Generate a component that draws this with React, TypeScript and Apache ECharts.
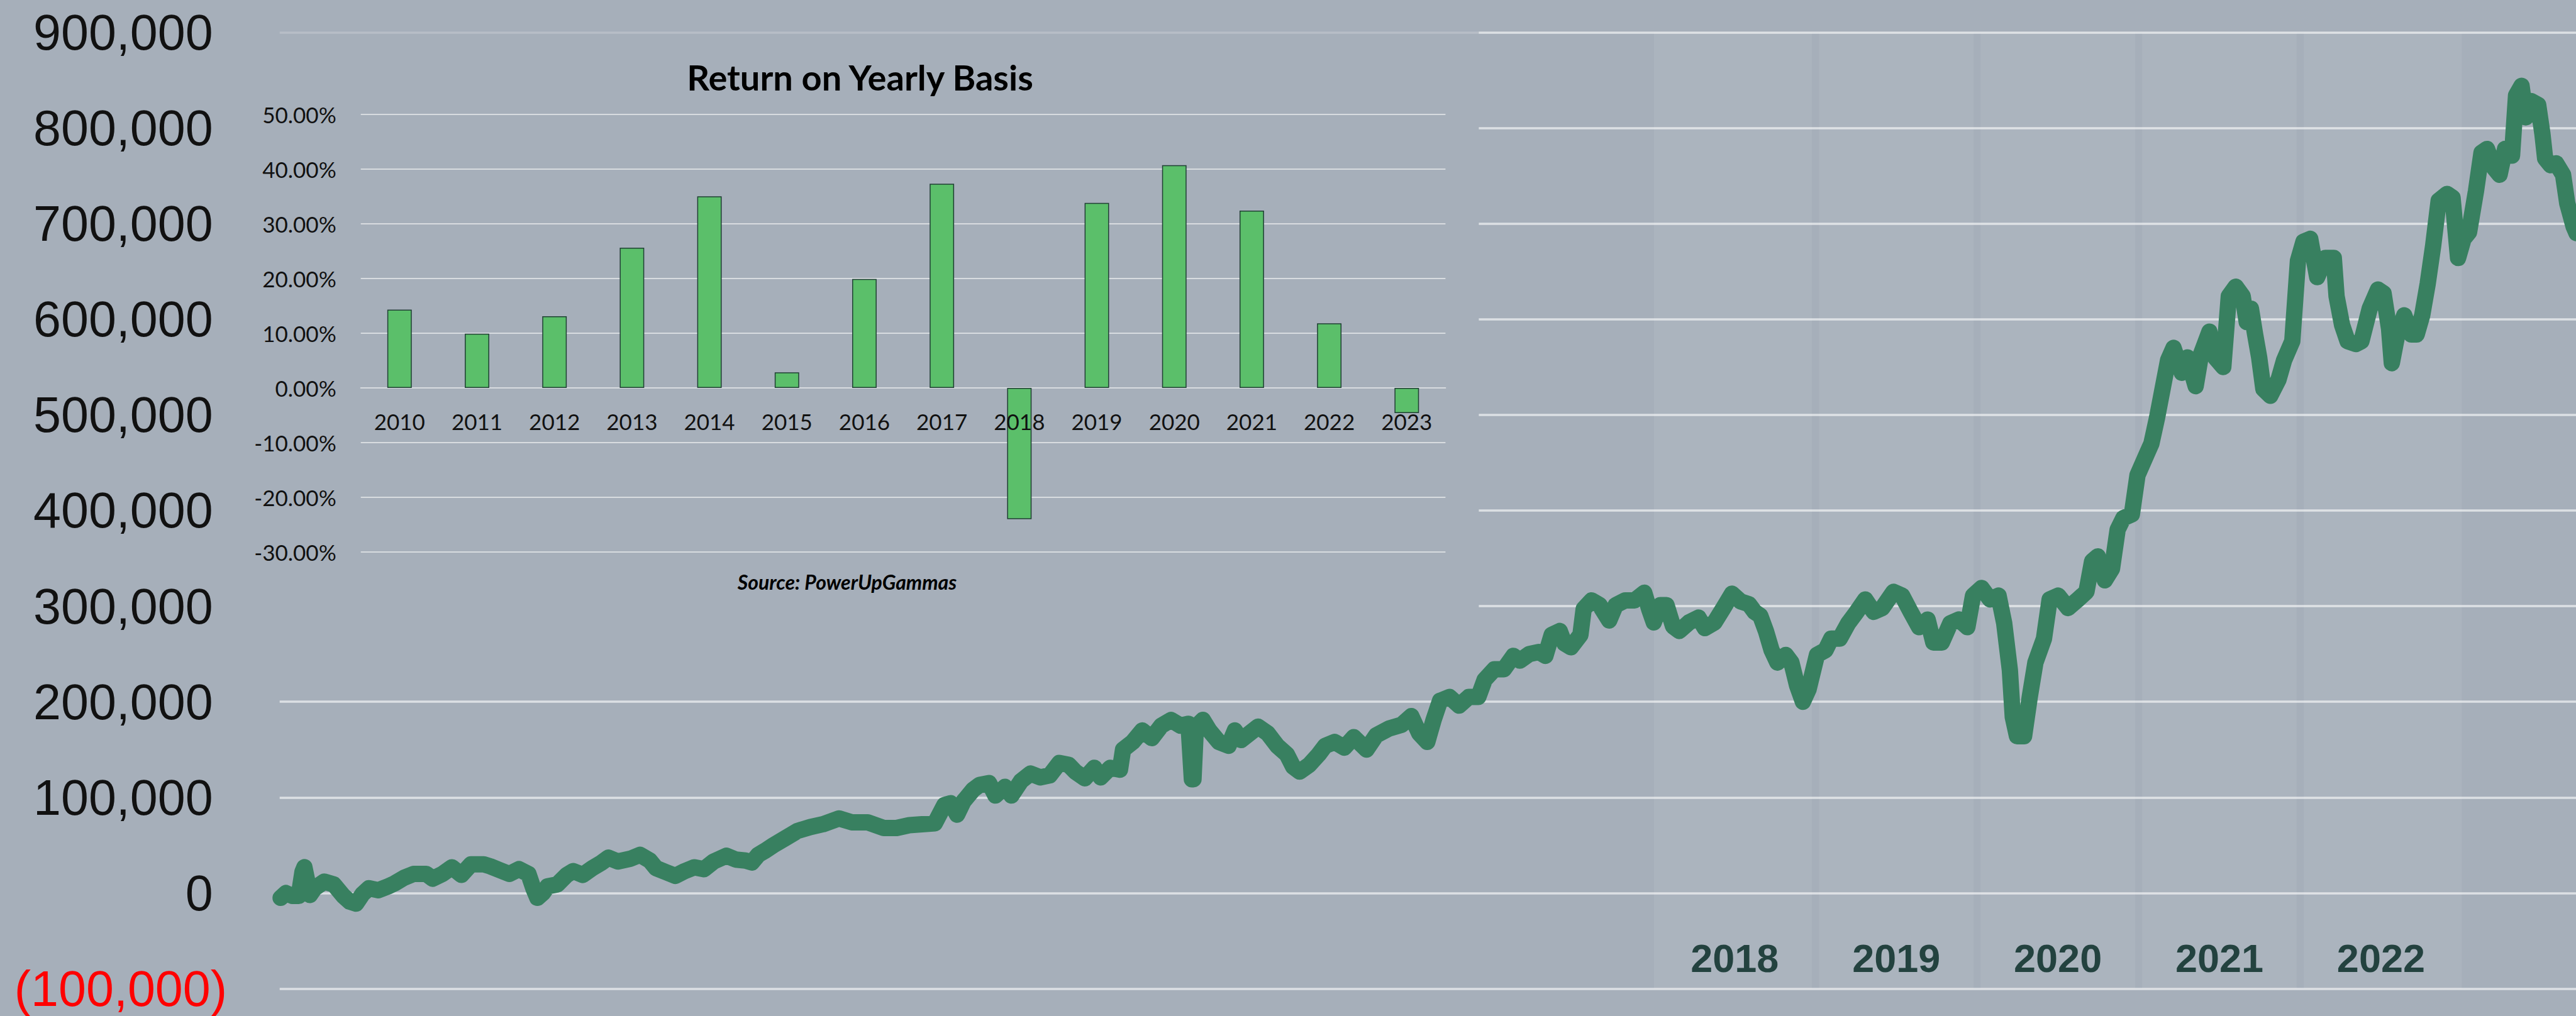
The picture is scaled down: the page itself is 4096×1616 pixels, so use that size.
import React, { useEffect, useRef } from 'react';
import * as echarts from 'echarts';

const W = 4096;
const H = 1616;
const BG = '#A6AFBA';

// ---------- inset chart data ----------
const INSET_YEARS = ['2010', '2011', '2012', '2013', '2014', '2015', '2016', '2017', '2018', '2019', '2020', '2021', '2022', '2023'];
const INSET_RETURNS = [14.3, 9.9, 13.1, 25.6, 35.0, 2.85, 19.9, 37.3, -24.0, 33.8, 40.7, 32.4, 11.8, -4.6];
const INSET_MIN = -30;
const INSET_MAX = 50;
const INSET_STEP = 10;

// ---------- main chart data ----------
const MAIN_MIN = -100000;
const MAIN_MAX = 900000;
const MAIN_STEP = 100000;
const PERIOD_LABELS = ['2018', '2019', '2020', '2021', '2022'];
const PERIOD_LABEL_POS = [2018.5, 2019.5, 2020.5, 2021.5, 2022.5];
const SHADED_YEARS = [2018, 2019, 2020, 2021, 2022];

// dates in decimal years
const VALUE_DATES = [
  2009.50, 2009.533, 2009.572, 2009.612, 2009.635, 2009.647, 2009.663, 2009.681, 2009.710, 2009.770,
  2009.829, 2009.888, 2009.928, 2009.967, 2010.007, 2010.046, 2010.105, 2010.165, 2010.204, 2010.264,
  2010.323, 2010.402, 2010.441, 2010.501, 2010.560, 2010.619, 2010.678, 2010.757, 2010.797, 2010.856,
  2010.915, 2010.975, 2011.034, 2011.064, 2011.089, 2011.123, 2011.152, 2011.212, 2011.271, 2011.311,
  2011.370, 2011.429, 2011.488, 2011.528, 2011.587, 2011.666, 2011.725, 2011.785, 2011.824, 2011.883,
  2011.943, 2012.002, 2012.061, 2012.120, 2012.180, 2012.259, 2012.318, 2012.377, 2012.417, 2012.456,
  2012.496, 2012.55, 2012.62,
  2012.699, 2012.778, 2012.857, 2012.956, 2013.035, 2013.134, 2013.233, 2013.312, 2013.391, 2013.470,
  2013.549, 2013.608, 2013.648, 2013.687, 2013.727, 2013.786, 2013.825, 2013.885, 2013.924, 2013.983,
  2014.023, 2014.082, 2014.141, 2014.201, 2014.260, 2014.319, 2014.378, 2014.418, 2014.477, 2014.536,
  2014.576, 2014.635, 2014.695, 2014.714, 2014.774, 2014.833, 2014.892, 2014.951, 2015.011, 2015.070,
  2015.119, 2015.140, 2015.150, 2015.165, 2015.208, 2015.248, 2015.307, 2015.367, 2015.406, 2015.445,
  2015.550, 2015.609, 2015.668, 2015.728, 2015.767, 2015.807, 2015.866, 2015.925, 2015.965, 2016.024,
  2016.083, 2016.142, 2016.221, 2016.281, 2016.360, 2016.439, 2016.498, 2016.547, 2016.597, 2016.636,
  2016.676, 2016.735, 2016.794, 2016.854, 2016.913, 2016.952, 2017.012, 2017.071, 2017.130, 2017.170,
  2017.229, 2017.288, 2017.328, 2017.367, 2017.417, 2017.446, 2017.486, 2017.545, 2017.565, 2017.614,
  2017.664, 2017.723, 2017.763, 2017.822, 2017.881, 2017.940, 2017.970, 2017.999, 2018.039, 2018.078,
  2018.118, 2018.157, 2018.217, 2018.276, 2018.315, 2018.375,
  2018.430, 2018.483, 2018.535, 2018.588, 2018.623, 2018.658, 2018.693, 2018.728, 2018.764, 2018.816,
  2018.851, 2018.886, 2018.922, 2018.957, 2019.009, 2019.062, 2019.097, 2019.150, 2019.202, 2019.255,
  2019.308, 2019.360, 2019.413, 2019.483, 2019.536, 2019.589, 2019.641, 2019.694, 2019.729, 2019.782,
  2019.834, 2019.887, 2019.940, 2019.975, 2020.028, 2020.080, 2020.133, 2020.168, 2020.203, 2020.221,
  2020.247, 2020.291, 2020.326, 2020.361, 2020.414, 2020.449, 2020.502, 2020.563, 2020.625, 2020.677,
  2020.712, 2020.747, 2020.791, 2020.835, 2020.870, 2020.905, 2020.958, 2020.993,
  2021.045, 2021.079, 2021.114, 2021.148, 2021.182, 2021.216, 2021.267, 2021.302, 2021.353, 2021.387,
  2021.438, 2021.473, 2021.524, 2021.558, 2021.601, 2021.644, 2021.669, 2021.695, 2021.721, 2021.746,
  2021.772, 2021.815, 2021.866, 2021.900, 2021.951, 2021.986, 2022.020, 2022.062, 2022.105, 2022.156,
  2022.208, 2022.225, 2022.259, 2022.293, 2022.345, 2022.379, 2022.430, 2022.481, 2022.516, 2022.550,
  2022.567, 2022.601, 2022.644, 2022.687, 2022.721, 2022.755, 2022.789, 2022.823, 2022.857, 2022.909,
  2022.943, 2022.977, 2023.011, 2023.045, 2023.088, 2023.122, 2023.156, 2023.200, 2023.234, 2023.268,
  2023.311, 2023.336, 2023.370, 2023.396, 2023.430, 2023.473, 2023.499, 2023.516, 2023.550, 2023.584,
  2023.627, 2023.653, 2023.692, 2023.71,
];

// portfolio value, thousands
const VALUE_K = [
  -5, 0, -3, -3, 22, 27, 14, -2, 5, 12,
  9, -3, -9, -11, -1, 5, 3, 7, 10, 16,
  20, 20, 15, 20, 27, 19, 30, 30, 28, 24,
  20, 25, 20, 5, -5, 0, 7, 9, 19, 23,
  19, 26, 32, 37, 33, 36, 40, 34, 26, 22,
  18, 23, 27, 25, 33, 39, 35, 34, 32, 40,
  44, 50, 57,
  65, 69, 72, 78, 74, 74, 68, 68, 71, 72,
  73, 92, 94, 82, 96, 108, 113, 115, 102, 111,
  102, 117, 125, 121, 123, 136, 134, 127, 120, 131,
  121, 131, 129, 150, 158, 170, 162, 175, 181, 175,
  177, 119, 119, 174, 181, 170, 158, 154, 170, 160,
  174, 167, 154, 145, 132, 127, 134, 145, 154, 158,
  152, 163, 150, 165, 172, 176, 185, 167, 158, 181,
  201, 205, 196, 205, 205, 223, 234, 234, 248, 243,
  250, 252, 248, 270, 274, 261, 257, 270, 297, 306,
  301, 285, 301, 306, 306, 314, 297, 283, 301, 301,
  279, 274, 283, 288, 277, 283,
  298, 313, 305, 302, 294, 290, 274, 254, 241, 249,
  241, 217, 200, 213, 249, 254, 266, 266, 282, 294,
  307, 294, 298, 315, 311, 294, 278, 286, 262, 262,
  282, 286, 278, 311, 319, 307, 311, 282, 233, 184,
  164, 164, 205, 241, 266, 307, 311, 298, 307, 315,
  347, 352, 327, 339, 380, 392, 396, 437,
  457, 470, 497, 527, 557, 570, 544, 560, 530, 564,
  587, 560, 550, 624, 634, 624, 597, 611, 584, 560,
  527, 520, 537, 557, 577, 661, 681, 684, 644, 664,
  664, 624, 594, 577, 574, 577, 611, 631, 627, 590,
  554, 584, 604, 584, 584, 604, 637, 677, 724, 731,
  727, 664, 684, 691, 734, 774, 778, 758, 751, 778,
  771, 834, 844, 811, 828, 824, 794, 768, 761, 763,
  751, 721, 697, 690,
];

function fmtThousands(v: number): string {
  return Math.abs(v).toLocaleString('en-US');
}

export default function App() {
  const ref = useRef<HTMLDivElement>(null);

  useEffect(() => {
    if (!ref.current) return;
    const chart = echarts.init(ref.current, undefined, { renderer: 'svg', width: W, height: H });

    const lineData = VALUE_DATES.map((t, i) => [t, VALUE_K[i] * 1000]);
    const gap = 0.022;

    // inset grid geometry (px)
    const insetTop = 181.7;
    const insetHeight = 696.4;
    const zeroOffset = -insetHeight * (0 - INSET_MIN) / (INSET_MAX - INSET_MIN);

    const yFont = 'Liberation Sans';
    const yFs = 79;
    const yLh = 72;

    const option: any = {
      animation: false,
      backgroundColor: BG,
      grid: [
        { left: 444.7, right: 0, top: 51.3, bottom: 43.4 },
        { left: 573.7, width: 1724.7, top: insetTop, height: insetHeight },
      ],
      xAxis: [
        {
          gridIndex: 0,
          type: 'value',
          min: 2009.494,
          max: 2023.707,
          axisLine: { show: false },
          axisTick: { show: false },
          splitLine: { show: false },
          axisLabel: {
            customValues: PERIOD_LABEL_POS,
            inside: true,
            margin: 48.6,
            verticalAlign: 'middle',
            formatter: (v: number) => {
              const i = PERIOD_LABEL_POS.findIndex((p) => Math.abs(p - v) < 1e-6);
              return i >= 0 ? PERIOD_LABELS[i] : '';
            },
            color: '#143532',
            fontFamily: 'Liberation Sans',
            fontWeight: 'bold',
            fontSize: 63,
            lineHeight: 63,
          },
        },
        {
          gridIndex: 1,
          type: 'category',
          data: INSET_YEARS,
          z: 3,
          offset: zeroOffset,
          axisLine: { show: true, onZero: false, lineStyle: { color: '#D8DCE0', width: 2 } },
          axisTick: { show: false },
          axisLabel: {
            interval: 0,
            color: '#111',
            fontFamily: 'Lato',
            fontSize: 35,
            lineHeight: 35,
            margin: 36,
          },
        },
      ],
      yAxis: [
        {
          gridIndex: 0,
          type: 'value',
          min: MAIN_MIN,
          max: MAIN_MAX,
          interval: MAIN_STEP,
          axisLine: { show: false },
          axisTick: { show: false },
          splitLine: { show: true, lineStyle: { color: '#DCE0E4', width: 3.5 } },
          axisLabel: {
            margin: 83.7,
            fontFamily: yFont,
            fontSize: yFs,
            lineHeight: yLh,
            color: '#111',
            formatter: (v: number) =>
              v < 0 ? `{neg|(${fmtThousands(v)})}` : `{num|${fmtThousands(v)}}{pad| }`,
            rich: {
              num: { fontFamily: yFont, fontSize: yFs, lineHeight: yLh, color: '#111' },
              neg: { fontFamily: yFont, fontSize: yFs, lineHeight: yLh, color: '#FF0000' },
              pad: { fontFamily: yFont, fontSize: yFs, lineHeight: yLh, width: 22.4 },
            },
          },
        },
        {
          gridIndex: 1,
          type: 'value',
          min: INSET_MIN,
          max: INSET_MAX,
          interval: INSET_STEP,
          z: 2,
          axisLine: { show: false },
          axisTick: { show: false },
          splitLine: { show: true, lineStyle: { color: '#D8DCE0', width: 2 } },
          axisLabel: {
            margin: 39,
            color: '#111',
            fontFamily: 'Lato',
            fontSize: 35,
            formatter: (v: number) => `${v.toFixed(2)}%`,
          },
        },
      ],
      series: [
        {
          type: 'line',
          xAxisIndex: 0,
          yAxisIndex: 0,
          data: lineData,
          showSymbol: false,
          symbol: 'none',
          z: 2,
          lineStyle: { color: '#388060', width: 26, cap: 'round', join: 'round' },
        },
        {
          type: 'line',
          xAxisIndex: 0,
          yAxisIndex: 0,
          data: [],
          z: 4,
          markArea: {
            silent: true,
            itemStyle: { color: 'rgba(255,255,255,0.065)' },
            data: SHADED_YEARS.map((y, i) => [
              { xAxis: y + (i === 0 ? 0 : gap) },
              { xAxis: y + 1 - (i === SHADED_YEARS.length - 1 ? 0 : gap) },
            ]),
          },
        },
        {
          type: 'bar',
          xAxisIndex: 1,
          yAxisIndex: 1,
          data: INSET_RETURNS,
          barWidth: 38.9,
          z: 3,
          itemStyle: { color: '#5BBF6A', borderColor: '#1F3F33', borderWidth: 1.5 },
        },
      ],
      graphic: [
        {
          type: 'rect',
          z: 1,
          silent: true,
          shape: { x: 400, y: 40, width: 1951.4, height: 16 },
          style: { fill: BG, opacity: 0.7 },
        },
        {
          type: 'rect',
          z: 1,
          silent: true,
          shape: { x: 400, y: 56, width: 1951.4, height: 984 },
          style: { fill: BG },
        },
        {
          type: 'text',
          z: 6,
          x: 1367.5,
          y: 122.9,
          style: {
            text: 'Return on Yearly Basis',
            fill: '#000',
            fontFamily: 'Lato',
            fontWeight: 'bold',
            fontSize: 56,
            align: 'center',
            verticalAlign: 'middle',
          },
        },
        {
          type: 'text',
          z: 6,
          x: 1347,
          y: 925.5,
          style: {
            text: 'Source: PowerUpGammas',
            fill: '#000',
            fontFamily: 'Lato',
            fontWeight: 'bold',
            fontStyle: 'italic',
            fontSize: 32,
            align: 'center',
            verticalAlign: 'middle',
          },
        },
      ],
    };

    chart.setOption(option);
    return () => chart.dispose();
  }, []);

  return (
    <div
      ref={ref}
      style={{ position: 'fixed', left: 0, top: 0, width: W, height: H }}
    />
  );
}
